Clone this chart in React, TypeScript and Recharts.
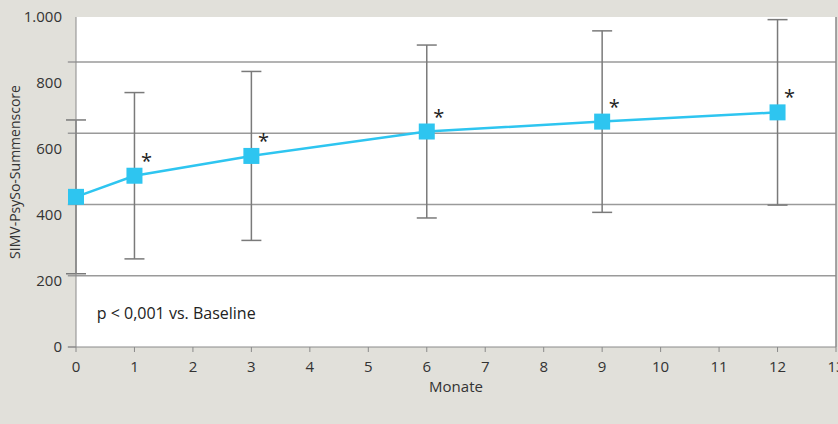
import React from 'react'
import {
  LineChart,
  Line,
  XAxis,
  YAxis,
  CartesianGrid,
  ErrorBar,
  ReferenceLine,
  ReferenceDot,
  Label,
  LabelList
} from 'recharts'

// months after baseline
const months = [0, 1, 3, 6, 9, 12]
// mean SIMV-PsySo sum score
const means = [455, 519, 579, 653, 683, 711]
// standard deviation (symmetric whiskers)
const sds = [233, 252, 256, 262, 275, 281]
// significance marker per time point
const marks = ['', '*', '*', '*', '*', '*']

const xTicks = [0, 1, 2, 3, 4, 5, 6, 7, 8, 9, 10, 11, 12, 13]
const yLabelTicks = [0, 200, 400, 600, 800, 1000]
const gridValues = [216, 432, 648, 864]

const data = months.map((m, i) => ({ month: m, score: means[i], sd: sds[i], mark: marks[i] }))

const FONT = "'Open Sans', sans-serif"
const CYAN = '#2ec5f0'
const GREY = '#8a8a8a'

const fmtY = (v: number) => (v === 1000 ? '1.000' : String(v))

function SquareDot(props: any) {
  const { cx, cy } = props
  if (cx == null || cy == null) return null
  return <rect x={cx - 8} y={cy - 8} width={16} height={16} fill={CYAN} />
}

function Star(props: any) {
  const { x, y, value } = props
  if (!value) return null
  return (
    <text x={x + 12} y={y - 8} textAnchor="middle" fontSize={20} fill="#222" fontFamily={FONT}>
      {value}
    </text>
  )
}

export default function App() {
  return (
    <div style={{ position: 'absolute', left: 0, top: 0, width: 838, height: 424, background: '#e1e0da' }}>
      <LineChart width={838} height={424} data={data} margin={{ top: 17, right: 2, bottom: 32, left: 20 }}>
        <CartesianGrid horizontal={false} vertical={false} fill="#ffffff" />
        <XAxis
          type="number"
          dataKey="month"
          domain={[0, 13]}
          ticks={xTicks}
          interval={0}
          height={45}
          stroke={GREY}
          tickSize={5}
          tickMargin={9}
          tick={{ fill: '#333', fontSize: 15, fontFamily: FONT }}
        >
          <Label value="Monate" position="insideBottom" offset={0} fill="#333" fontSize={15} fontFamily={FONT} />
        </XAxis>
        <YAxis
          type="number"
          domain={[0, 1000]}
          ticks={yLabelTicks}
          tickFormatter={fmtY}
          interval={0}
          width={56}
          stroke={GREY}
          tickLine={false}
          tickSize={8}
          tickMargin={6}
          tick={{ fill: '#333', fontSize: 15, fontFamily: FONT }}
        >
          <Label
            value="SIMV-PsySo-Summenscore"
            angle={-90}
            position="insideLeft"
            offset={-5}
            dy={-10}
            fill="#333"
            fontSize={14}
            fontFamily={FONT}
            style={{ textAnchor: 'middle' }}
          />
        </YAxis>
        {gridValues.map(v => (
          <ReferenceLine
            key={v}
            segment={[{ x: -0.14, y: v }, { x: 13, y: v }]}
            stroke="#9a9a9a"
            strokeWidth={1.5}
            ifOverflow="visible"
          />
        ))}
        <ReferenceLine segment={[{ x: -0.14, y: 0 }, { x: 0, y: 0 }]} stroke={GREY} strokeWidth={1.5} ifOverflow="visible" />
        <ReferenceLine x={13} stroke={GREY} strokeWidth={1.5} />
        <ReferenceDot
          x={0.27}
          y={102}
          r={0}
          fill="none"
          stroke="none"
          label={{ value: 'p < 0,001 vs. Baseline', position: 'right', fill: '#222', fontSize: 16, fontFamily: FONT }}
        />
        <Line
          type="linear"
          dataKey="score"
          stroke={CYAN}
          strokeWidth={2.5}
          dot={<SquareDot />}
          activeDot={false}
          isAnimationActive={false}
        >
          <ErrorBar dataKey="sd" width={10} stroke="#7a7a7a" strokeWidth={1.5} direction="y" />
          <LabelList dataKey="mark" content={<Star />} />
        </Line>
      </LineChart>
    </div>
  )
}
